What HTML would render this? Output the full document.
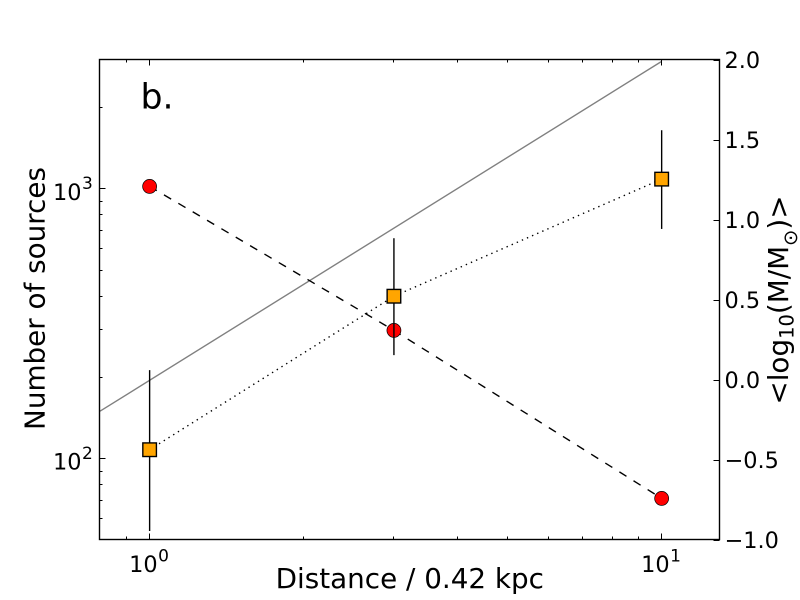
<!DOCTYPE html>
<html>
<head>
<meta charset="utf-8">
<title>Number of sources vs distance</title>
<style>
html,body{margin:0;padding:0;background:#fff;}
svg{display:block;}
text{font-family:"DejaVu Sans","Liberation Sans",sans-serif;fill:#000;}
</style>
</head>
<body>
<svg id="chart" width="800" height="600" viewBox="0 0 800 600" xmlns="http://www.w3.org/2000/svg">
  <rect x="0" y="0" width="800" height="600" fill="#fff"/>
  <defs><clipPath id="plot-clip"><rect x="99.5" y="59.5" width="620" height="480"/></clipPath></defs>
  <g id="marks" clip-path="url(#plot-clip)"></g>
  <g id="ticks"></g>
  <rect x="99.5" y="59.5" width="620" height="480" fill="none" stroke="#000" stroke-width="1.4"/>
  <g id="labels"></g>
  <text x="140.5" y="108.5" font-size="34.7">b.</text>
  <text x="409.8" y="588" font-size="27.8" text-anchor="middle">Distance / 0.42 kpc</text>
  <text transform="translate(44.5 298.5) rotate(-90)" font-size="27.8" text-anchor="middle">Number of sources</text>
  <text transform="translate(788 300) rotate(-90)" font-size="27.8" text-anchor="middle">&lt;log<tspan font-size="19.5" dy="5.5">10</tspan><tspan dy="-5.5">(M/M</tspan><tspan font-size="19.5" dy="9">⊙</tspan><tspan dy="-9">)&gt;</tspan></text>
</svg>
<script>
// Chart data
const massX = [1, 3, 10];
const massY = [1.21, 0.31, -0.74];
const countX = [1, 3, 10];
const countY = [108, 400, 1086];
const countErrLow = [54, 242, 710];
const countErrHigh = [213, 656, 1648];
const refLineX = [0.8, 10];
const refLineY = [150, 2965];
const xMajorTicks = [1, 10];
const xMajorExponents = ['0', '1'];
const xMinorTicks = [0.9, 2, 3, 4, 5, 6, 7, 8, 9];
const yLeftMajorTicks = [100, 1000];
const yLeftMajorExponents = ['2', '3'];
const yLeftMinorTicks = [60, 70, 80, 90, 200, 300, 400, 500, 600, 700, 800, 900, 2000];
const yRightTicks = [-1, -0.5, 0, 0.5, 1, 1.5, 2];
const yRightTickLabels = ['\u22121.0', '\u22120.5', '0.0', '0.5', '1.0', '1.5', '2.0'];

// Axis functions
const xMin = 0.8, xMax = 13, yLeftMin = 50, yLeftMax = 3000, yRightMin = -1, yRightMax = 2;
const plotLeft = 100, plotRight = 720, plotTop = 60, plotBottom = 540;
const frameLeft = 99.5, frameRight = 719.5, frameTop = 59.5, frameBottom = 539.5;
function xScale(v) {
  return plotLeft + (Math.log10(v) - Math.log10(xMin)) / (Math.log10(xMax) - Math.log10(xMin)) * (plotRight - plotLeft);
}
function yLeftScale(v) {
  return plotBottom - (Math.log10(v) - Math.log10(yLeftMin)) / (Math.log10(yLeftMax) - Math.log10(yLeftMin)) * (plotBottom - plotTop);
}
function yRightScale(v) {
  return plotBottom - (v - yRightMin) / (yRightMax - yRightMin) * (plotBottom - plotTop);
}
function snap(v) {
  return Math.floor(v) + 0.5;
}

const NS = 'http://www.w3.org/2000/svg';
const marks = document.getElementById('marks');
const ticks = document.getElementById('ticks');
const labels = document.getElementById('labels');

function make(parent, tag, props) {
  const el = document.createElementNS(NS, tag);
  for (const k in props) {
    el.setAttribute(k, props[k]);
  }
  parent.appendChild(el);
  return el;
}
function pointsOf(xs, ys, yf) {
  return xs.map(function (x, i) { return xScale(x) + ',' + yf(ys[i]); }).join(' ');
}

// Reference line
const refLine = make(marks, 'polyline', {points: pointsOf(refLineX, refLineY, yLeftScale), fill: 'none', stroke: '#808080', 'stroke-width': 1.39});



// Mass series (right axis)
const massLine = make(marks, 'polyline', {points: pointsOf(massX, massY, yRightScale), fill: 'none', stroke: '#000', 'stroke-width': 1.39, 'stroke-dasharray': '8.33 8.33'});


massX.forEach(function (x, i) {
  const dot = make(marks, 'circle', {cx: xScale(x), cy: yRightScale(massY[i]), r: 7, fill: '#ff0000', stroke: '#000', 'stroke-width': 0.7});
  
  
});

// Count series (left axis)
const countLine = make(marks, 'polyline', {points: pointsOf(countX, countY, yLeftScale), fill: 'none', stroke: '#000', 'stroke-width': 1.39, 'stroke-dasharray': '1.39 4.17'});


countX.forEach(function (x, i) {
  const bar = make(marks, 'line', {x1: xScale(x), x2: xScale(x), y1: yLeftScale(countErrLow[i]), y2: yLeftScale(countErrHigh[i]), stroke: '#000', 'stroke-width': 1.39});
  
  
});
countX.forEach(function (x, i) {
  const square = make(marks, 'rect', {x: xScale(x) - 6.8, y: yLeftScale(countY[i]) - 6.8, width: 13.6, height: 13.6, fill: '#ffa500', stroke: '#000', 'stroke-width': 1.39});
  
  
});

// Ticks
function tick(x1, y1, x2, y2, name) {
  const t = make(ticks, 'line', {x1: x1, y1: y1, x2: x2, y2: y2, stroke: '#000', 'stroke-width': 1, 'shape-rendering': 'crispEdges'});
  
  
}
xMajorTicks.forEach(function (v) {
  const x = snap(xScale(v));
  tick(x, frameBottom, x, frameBottom - 6, 'x-major-tick-bottom');
  tick(x, frameTop, x, frameTop + 6, 'x-major-tick-top');
});
xMinorTicks.forEach(function (v) {
  const x = snap(xScale(v));
  tick(x, frameBottom, x, frameBottom - 3, 'x-minor-tick-bottom');
  tick(x, frameTop, x, frameTop + 3, 'x-minor-tick-top');
});
yLeftMajorTicks.forEach(function (v) {
  const y = snap(yLeftScale(v));
  tick(frameLeft, y, frameLeft + 6, y, 'left-y-major-tick');
});
yLeftMinorTicks.forEach(function (v) {
  const y = snap(yLeftScale(v));
  tick(frameLeft, y, frameLeft + 3, y, 'left-y-minor-tick');
});
yRightTicks.forEach(function (v) {
  const y = snap(yRightScale(v));
  tick(frameRight, y, frameRight - 6, y, 'right-y-tick');
});

// Tick labels
function powerLabel(x, y, exponent, name) {
  const t = make(labels, 'text', {x: x, y: y, 'font-size': 22.4});
  
  
  t.appendChild(document.createTextNode('10'));
  const sup = make(t, 'tspan', {dy: -10.7, dx: 0.5, 'font-size': 17});
  sup.textContent = exponent;
}
xMajorTicks.forEach(function (v, i) {
  powerLabel(xScale(v) - 20.5, 572, xMajorExponents[i], 'x-tick-label');
});
yLeftMajorTicks.forEach(function (v, i) {
  powerLabel(53, yLeftScale(v) + 11, yLeftMajorExponents[i], 'left-y-tick-label');
});
yRightTicks.forEach(function (v, i) {
  const t = make(labels, 'text', {x: 724.5, y: yRightScale(v) + 8, 'font-size': 22.4});
  
  
  t.textContent = yRightTickLabels[i];
});
</script>
</body>
</html>
